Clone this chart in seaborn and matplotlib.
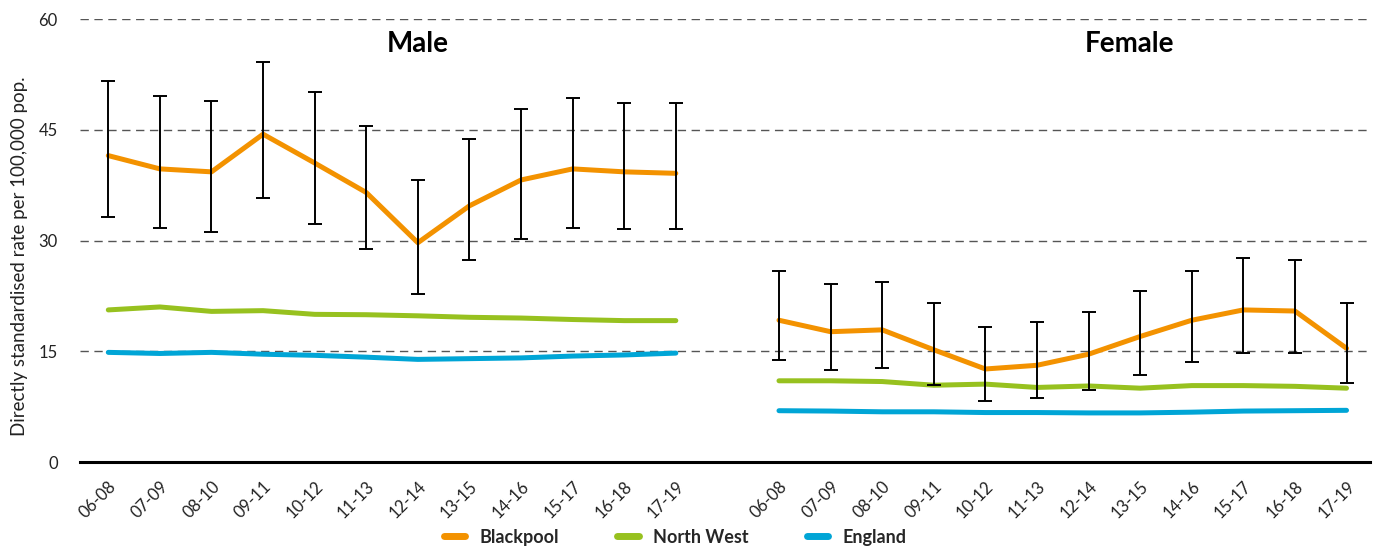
import numpy as np
import pandas as pd
import matplotlib
matplotlib.use("Agg")
import matplotlib.pyplot as plt
from matplotlib.lines import Line2D
import seaborn as sns

periods = ["06-08", "07-09", "08-10", "09-11", "10-12", "11-13",
           "12-14", "13-15", "14-16", "15-17", "16-18", "17-19"]

male_blackpool = [41.5, 39.7, 39.3, 44.4, 40.5, 36.5, 29.7, 34.7, 38.2, 39.7, 39.3, 39.1]
male_blackpool_lo = [33.2, 31.7, 31.1, 35.8, 32.3, 28.8, 22.7, 27.3, 30.2, 31.7, 31.5, 31.5]
male_blackpool_hi = [51.6, 49.6, 48.9, 54.2, 50.1, 45.5, 38.2, 43.7, 47.8, 49.3, 48.6, 48.6]
male_northwest = [20.6, 21.0, 20.4, 20.5, 20.0, 19.95, 19.8, 19.6, 19.5, 19.3, 19.15, 19.15]
male_england = [14.85, 14.7, 14.85, 14.6, 14.45, 14.2, 13.9, 14.0, 14.1, 14.35, 14.5, 14.75]

female_blackpool = [19.2, 17.65, 17.9, 15.2, 12.6, 13.1, 14.6, 17.0, 19.2, 20.6, 20.45, 15.4]
female_blackpool_lo = [13.8, 12.5, 12.8, 10.4, 8.3, 8.7, 9.75, 11.8, 13.5, 14.8, 14.8, 10.7]
female_blackpool_hi = [25.9, 24.1, 24.4, 21.5, 18.3, 19.0, 20.3, 23.1, 25.9, 27.6, 27.4, 21.5]
female_northwest = [11.0, 11.0, 10.9, 10.4, 10.55, 10.1, 10.3, 10.0, 10.35, 10.35, 10.25, 10.0]
female_england = [6.95, 6.9, 6.8, 6.8, 6.7, 6.7, 6.65, 6.65, 6.75, 6.9, 6.95, 7.0]

areas = ["Blackpool", "North West", "England"]
colors = {"Blackpool": "#F39200", "North West": "#97C11F", "England": "#00A5D6"}

sns.set_theme(style="white")
plt.rcParams["font.family"] = ["Lato", "DejaVu Sans"]

n = len(periods)
male_x = np.arange(n)
female_x = np.arange(n) + n + 1

rows = []
for sex, xs, data in [("Male", male_x, [male_blackpool, male_northwest, male_england]),
                      ("Female", female_x, [female_blackpool, female_northwest, female_england])]:
    for area, vals in zip(areas, data):
        for xv, v in zip(xs, vals):
            rows.append({"sex": sex, "area": area, "x": xv, "rate": v})
df = pd.DataFrame(rows)

fig = plt.figure(figsize=(13.78, 5.51), dpi=100)
ax = fig.add_axes([0.058, 0.1615, 0.936, 0.804])

sns.lineplot(data=df, x="x", y="rate", hue="area", units="sex", estimator=None,
             palette=colors, hue_order=areas, linewidth=3.6, ax=ax, legend=False,
             solid_capstyle="round", zorder=3)

for xs, mid, lo, hi in [(male_x, male_blackpool, male_blackpool_lo, male_blackpool_hi),
                        (female_x, female_blackpool, female_blackpool_lo, female_blackpool_hi)]:
    mid = np.array(mid); lo = np.array(lo); hi = np.array(hi)
    ax.errorbar(xs, mid, yerr=[mid - lo, hi - mid], fmt="none", ecolor="black",
                elinewidth=1.4, capsize=5, capthick=1.4, zorder=4)

ax.set_xlim(-0.55, 2 * n + 0.45)
ax.set_ylim(0, 60)
ax.set_yticks([0, 15, 30, 45, 60])
ax.tick_params(axis="y", labelsize=12, length=0, pad=16, colors="#222222")
ax.set_xticks(np.concatenate([male_x, female_x]))
ax.set_xticklabels(periods + periods, rotation=45, ha="right", rotation_mode="anchor",
                   fontsize=12, color="#222222")
ax.tick_params(axis="x", length=0, pad=12)

for yv in [15, 30, 45, 60]:
    ax.axhline(yv, color="#555555", linewidth=1.0, linestyle=(0, (6, 4)), zorder=1)

for s in ["top", "right", "left"]:
    ax.spines[s].set_visible(False)
ax.spines["bottom"].set_color("black")
ax.spines["bottom"].set_linewidth(2.2)
ax.grid(False)

ax.set_xlabel("")
ax.set_ylabel("Directly standardised rate per 100,000 pop.", fontsize=13.5, color="#222222", labelpad=10)
ax.yaxis.set_label_coords(-0.040, 0.465)

ax.text(6, 56.6, "Male", ha="center", va="center", fontsize=20, fontweight="bold", color="black")
ax.text(19.8, 56.6, "Female", ha="center", va="center", fontsize=20, fontweight="bold", color="black")

handles = [Line2D([0], [0], color=colors[a], linewidth=5, solid_capstyle="round") for a in areas]
fig.legend(handles, areas, loc="center", bbox_to_anchor=(0.49, 0.025), ncol=3, frameon=False,
           handlelength=1.2, columnspacing=3.2, handletextpad=0.8,
           prop={"size": 13, "weight": "bold"})

fig.savefig("out.png", dpi=100)
